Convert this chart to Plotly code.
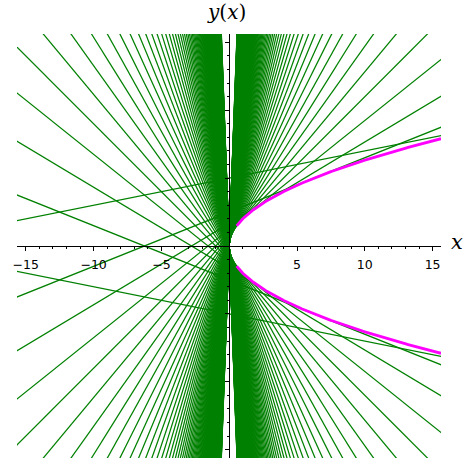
import numpy as np
import plotly.graph_objects as go

# Family of straight-line solutions y = C*x + 1/C  (Clairaut equation)
C_STEP = 0.2
C_MAX = 27.0
slopes_pos = np.round(np.arange(C_STEP, C_MAX + 1e-9, C_STEP), 6)
slopes = np.concatenate([slopes_pos, -slopes_pos])

# Singular solution: envelope y^2 = 4x (two branches)
env_x_start = 0.55
env_x_end = 15.62

x_ticks = [-15, -10, -5, 5, 10, 15]

xmin, xmax = -15.65, 15.62
ymin, ymax = -15.62, 15.62

# Build line traces (each line evaluated at the two x-range ends)
lx, ly = [], []
for c in slopes:
    for xv in (xmin - 1, xmax + 1):
        lx.append(xv)
        ly.append(c * xv + 1.0 / c)
    lx.append(None)
    ly.append(None)

ex = np.linspace(env_x_start, env_x_end, 400)
ey_up = 2 * np.sqrt(ex)
ey_dn = -2 * np.sqrt(ex)

fig = go.Figure()
fig.add_trace(go.Scatter(x=lx, y=ly, mode="lines",
                         line=dict(color="#008000", width=1.25),
                         hoverinfo="skip", showlegend=False))
fig.add_trace(go.Scatter(x=ex, y=ey_up, mode="lines",
                         line=dict(color="#ff00ff", width=2.8),
                         hoverinfo="skip", showlegend=False))
fig.add_trace(go.Scatter(x=ex, y=ey_dn, mode="lines",
                         line=dict(color="#ff00ff", width=2.8),
                         hoverinfo="skip", showlegend=False))

xpos = (0 - ymin) / (ymax - ymin)
ypos = (0 - xmin) / (xmax - xmin)

fig.update_layout(
    width=468, height=468,
    margin=dict(l=17, r=27, t=34, b=10),
    paper_bgcolor="white", plot_bgcolor="white",
    hovermode=False,
    xaxis=dict(range=[xmin, xmax], anchor="free", position=xpos,
               showline=True, linecolor="black", linewidth=1.3,
               showgrid=False, zeroline=False, automargin=False,
               tickvals=x_ticks, ticks="outside", ticklen=4,
               tickwidth=1, tickcolor="black",
               minor=dict(dtick=1, ticks="outside", ticklen=2, tickcolor="black", tickwidth=1),
               tickfont=dict(family="DejaVu Sans", size=12.5, color="black"),
               ticklabelstandoff=3,
               layer="above traces"),
    yaxis=dict(range=[ymin, ymax], anchor="free", position=ypos,
               showline=True, linecolor="black", linewidth=1.3,
               showgrid=False, zeroline=False, automargin=False,
               dtick=5, tick0=0, ticks="outside", ticklen=4,
               tickwidth=1, tickcolor="black",
               minor=dict(dtick=1, ticks="outside", ticklen=2, tickcolor="black", tickwidth=1),
               showticklabels=False,
               layer="above traces"),
    annotations=[
        dict(text="<i>y</i>(<i>x</i>)", x=ypos, y=1.0, xref="paper", yref="paper",
             xanchor="center", yanchor="bottom", xshift=-3, yshift=8, showarrow=False,
             font=dict(family="DejaVu Serif", size=20, color="black")),
        dict(text="<i>x</i>", x=1.0, y=xpos, xref="paper", yref="paper",
             xanchor="left", yanchor="middle", xshift=8, yshift=4, showarrow=False,
             font=dict(family="DejaVu Serif", size=21, color="black")),
    ],
)

fig.write_html("out.html", config={"displayModeBar": False},
               post_script="document.body.style.margin='0px';")
